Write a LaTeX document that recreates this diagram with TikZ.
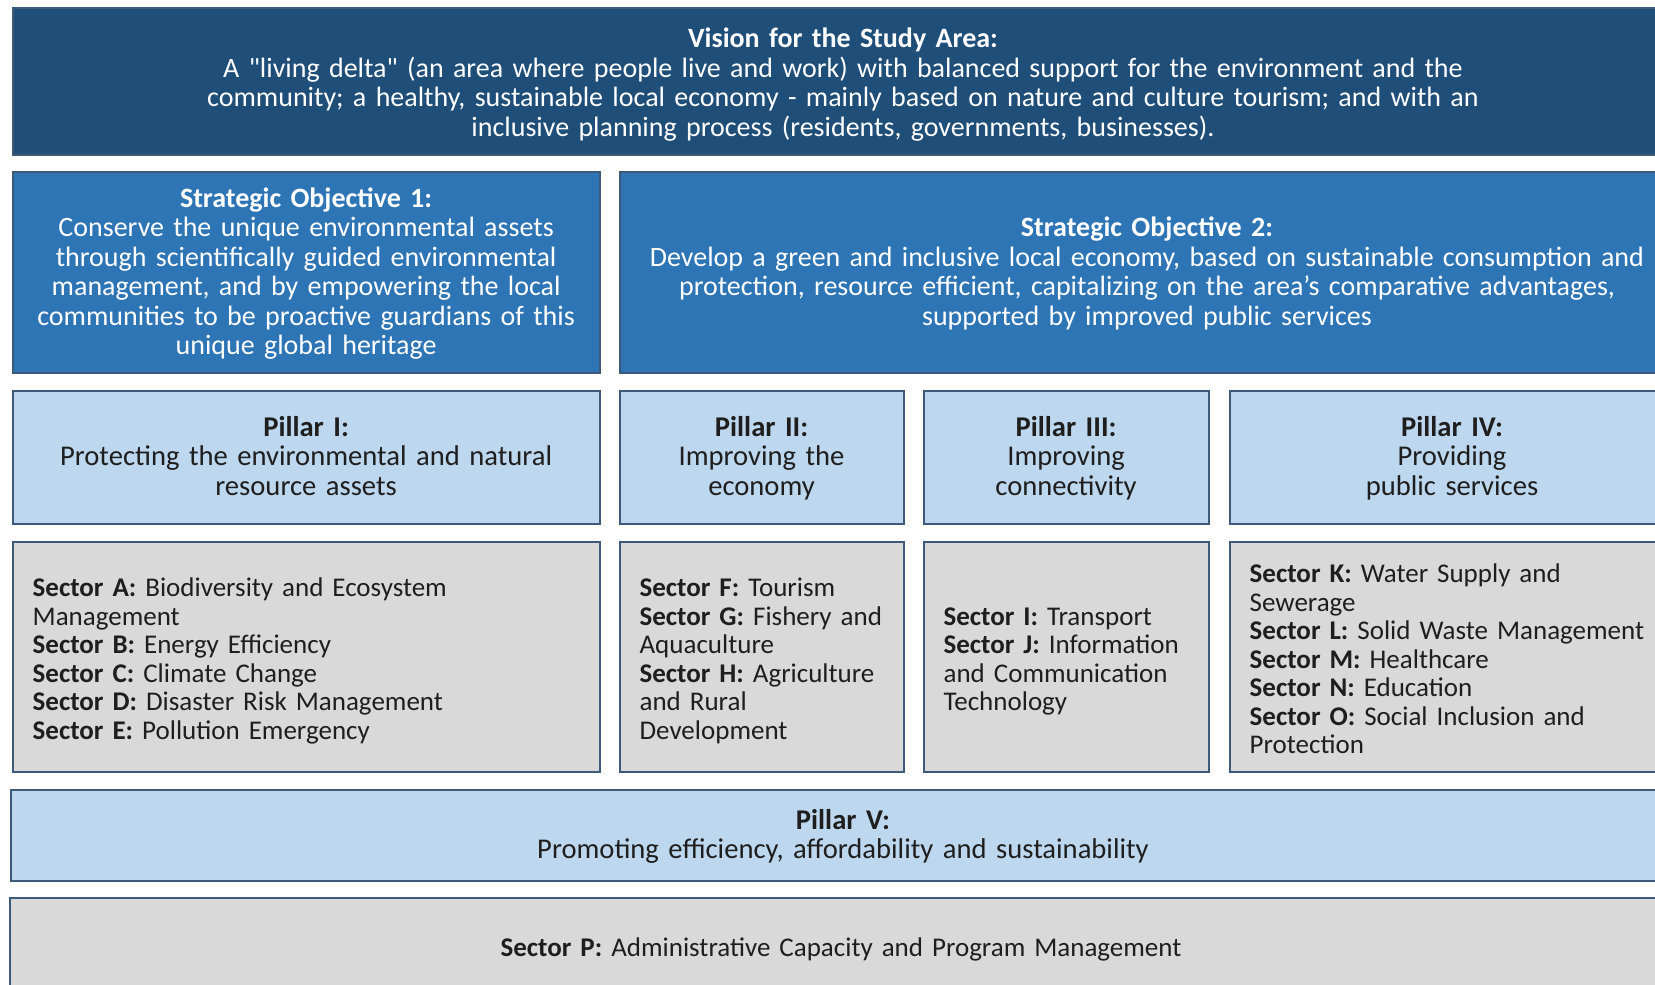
\documentclass[tikz,border=0pt]{standalone}
\usepackage{fontspec}
\setmainfont{Carlito}
\definecolor{visionblue}{HTML}{1F4E79}
\definecolor{objblue}{HTML}{2E75B6}
\definecolor{pillarblue}{HTML}{BDD7EE}
\definecolor{sectorgray}{HTML}{D9D9D9}
\definecolor{edgeblue}{HTML}{3E5A7A}
\definecolor{textdark}{HTML}{1E1E1E}
\tikzset{box/.style={draw=edgeblue, line width=1pt, align=center, inner xsep=2pt, inner ysep=0pt,
  execute at begin node={\rule{0pt}{12.5pt}}, execute at end node={\rule[-4pt]{0pt}{4pt}},
  font=\fontsize{14}{14.75}\selectfont}}
\tikzset{vis/.style={box, fill=visionblue, text=white, execute at begin node={\rule{0pt}{14.5pt}}}}
\tikzset{obj/.style={box, fill=objblue, text=white}}
\tikzset{pil/.style={box, fill=pillarblue, text=textdark, font=\fontsize{14.3}{14.75}\selectfont,
  execute at begin node={\rule{0pt}{11.5pt}}}}
\tikzset{sec/.style={box, fill=sectorgray, text=textdark, align=left, inner xsep=10pt, font=\fontsize{13.5}{14.25}\selectfont,
  execute at begin node={\rule{0pt}{15.5pt}}}}

\begin{document}
\begin{tikzpicture}[x=0.5pt, y=-0.5pt]
        \useasboundingbox (0,0) rectangle (1655,985);
        % vision and objectives
        \node [vis, text width=826pt, minimum height=73.3pt] (V) at (843,81.7)
          {\textbf{Vision for the Study Area:}\\
           A \textquotedbl living delta\textquotedbl{} (an area where people live and work) with balanced support for the environment and the\\
           community; a healthy, sustainable local economy -  mainly based on nature and culture tourism; and with an\\
           inclusive planning process (residents, governments, businesses).};
        \node [obj, text width=289.4pt, minimum height=100.3pt] (SO1) at (306.1,272.3)
          {\textbf{Strategic Objective 1:}\\
           Conserve the unique environmental assets\\
           through scientifically guided environmental\\
           management, and by empowering the local\\
           communities to be proactive guardians of this\\
           unique global heritage};
        \node [obj, text width=523.4pt, minimum height=100.3pt] (SO2) at (1147,272.3)
          {\textbf{Strategic Objective 2:}\\
           Develop a green and inclusive local economy, based on sustainable consumption and\\
           protection, resource efficient, capitalizing on the area’s comparative advantages,\\
           supported by improved public services};
        % pillars
        \node [pil, text width=289.4pt, minimum height=66.5pt] (P1) at (306.1,457)
          {\textbf{Pillar I:}\\ Protecting the environmental and natural\\ resource assets};
        \node [pil, text width=137.95pt, minimum height=66.5pt] (P2) at (761.55,457)
          {\textbf{Pillar II:}\\ Improving the\\ economy};
        \node [pil, text width=138.45pt, minimum height=66.5pt] (P3) at (1066.05,457)
          {\textbf{Pillar III:}\\ Improving\\ connectivity};
        \node [pil, text width=218.3pt, minimum height=66.5pt] (P4) at (1452,457)
          {\textbf{Pillar IV:}\\ Providing\\ public services};
        % sectors
        \node [sec, text width=273.4pt, minimum height=115pt] (S1) at (306.1,656.5)
          {\textbf{Sector A:} Biodiversity and Ecosystem\\ Management\\
           \textbf{Sector B:} Energy Efficiency\\
           \textbf{Sector C:} Climate Change\\
           \textbf{Sector D:} Disaster Risk Management\\
           \textbf{Sector E:} Pollution Emergency};
        \node [sec, text width=121.95pt, minimum height=115pt] (S2) at (761.55,656.5)
          {\textbf{Sector F:} Tourism\\
           \textbf{Sector G:} Fishery and\\ Aquaculture\\
           \textbf{Sector H:} Agriculture\\ and Rural\\ Development};
        \node [sec, text width=122.45pt, minimum height=115pt] (S3) at (1066.05,656.5)
          {\textbf{Sector I:} Transport\\
           \textbf{Sector J:} Information\\ and Communication\\ Technology};
        \node [sec, text width=202.3pt, minimum height=115pt] (S4) at (1452,656.5)
          {\textbf{Sector K:} Water Supply and\\ Sewerage\\
           \textbf{Sector L:} Solid Waste Management\\
           \textbf{Sector M:} Healthcare\\
           \textbf{Sector N:} Education\\
           \textbf{Sector O:} Social Inclusion and\\ Protection};
        % cross-cutting
        \node [pil, text width=828.4pt, minimum height=45.75pt] (P5) at (843,835.25)
          {\textbf{Pillar V:}\\ Promoting efficiency, affordability and sustainability};
        \node [sec, align=center, text width=811.5pt, minimum height=46.5pt,
          execute at begin node={\rule{0pt}{13pt}}] (SP) at (841,944.5)
          {\textbf{Sector P:} Administrative Capacity and Program Management};
      \end{tikzpicture}
\end{document}
